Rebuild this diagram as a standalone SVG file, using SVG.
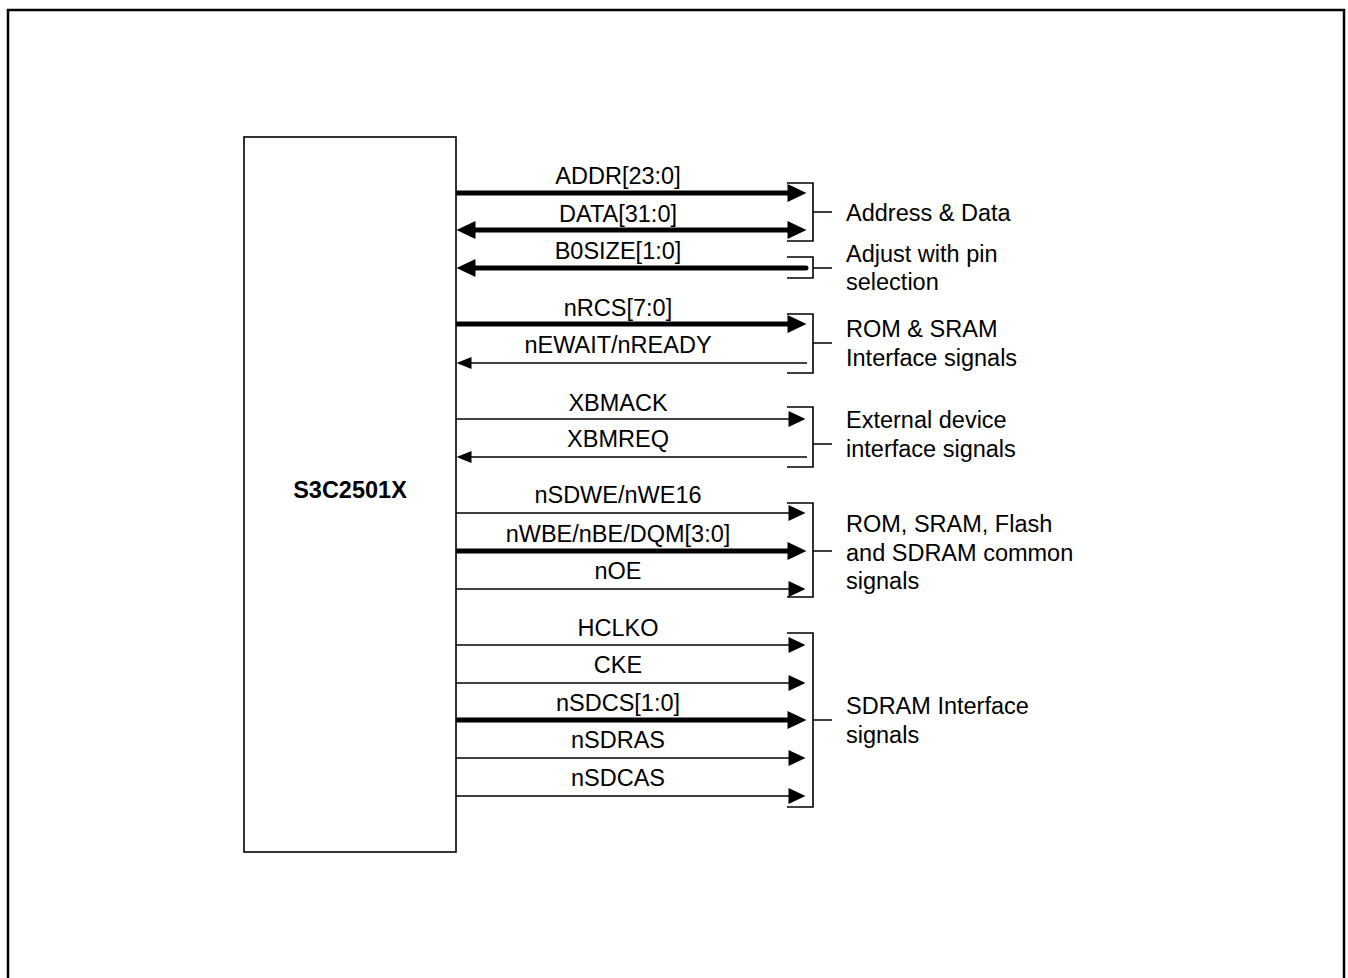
<svg xmlns="http://www.w3.org/2000/svg" width="1348" height="978" viewBox="0 0 1348 978">
<defs>
<style>
text{font-family:"Liberation Sans",Arial,sans-serif;font-size:23.5px;fill:#000}
.sig{text-anchor:middle}
.thin{stroke:#000;stroke-width:1.6;fill:none}
.thick{stroke:#000;stroke-width:5;fill:none}
.br{stroke:#000;stroke-width:1.6;fill:none}
</style>
<marker id="aR" markerUnits="userSpaceOnUse" markerWidth="20" markerHeight="20" viewBox="0 0 20 20" refX="1.5" refY="10" orient="auto"><path d="M1,2 L18,10 L1,18 Z" fill="#000"/></marker>
<marker id="aRt" markerUnits="userSpaceOnUse" markerWidth="22" markerHeight="22" viewBox="0 0 22 22" refX="1.5" refY="11" orient="auto"><path d="M1,2 L20,11 L1,20 Z" fill="#000"/></marker>
<marker id="aL" markerUnits="userSpaceOnUse" markerWidth="20" markerHeight="20" viewBox="0 0 20 20" refX="1.5" refY="10" orient="auto-start-reverse"><path d="M1,4 L16,10 L1,16 Z" fill="#000"/></marker>
<marker id="aLt" markerUnits="userSpaceOnUse" markerWidth="22" markerHeight="22" viewBox="0 0 22 22" refX="1.5" refY="11" orient="auto-start-reverse"><path d="M1,2 L20,11 L1,20 Z" fill="#000"/></marker>
</defs>
<rect x="0" y="0" width="1348" height="978" fill="#fff"/>
<rect x="8" y="10" width="1336" height="980" fill="none" stroke="#000" stroke-width="2.5"/>
<g id="chip">
<rect x="244" y="137" width="212" height="715" fill="#fff" stroke="#000" stroke-width="1.6"/>
<text x="350" y="498" text-anchor="middle" font-weight="bold">S3C2501X</text>
</g>
<g id="connectors">
<line class="thick" x1="456" y1="193" x2="788" y2="193" marker-end="url(#aRt)"/>
<line class="thick" x1="475" y1="230" x2="788" y2="230" marker-start="url(#aLt)" marker-end="url(#aRt)"/>
<line class="thick" x1="475" y1="268" x2="806" y2="268" stroke-linecap="round" marker-start="url(#aLt)"/>
<line class="thick" x1="456" y1="324" x2="788" y2="324" marker-end="url(#aRt)"/>
<line class="thin" x1="471" y1="363" x2="807" y2="363" marker-start="url(#aL)"/>
<line class="thin" x1="456" y1="419" x2="789" y2="419" marker-end="url(#aR)"/>
<line class="thin" x1="471" y1="457" x2="807" y2="457" marker-start="url(#aL)"/>
<line class="thin" x1="456" y1="513" x2="789" y2="513" marker-end="url(#aR)"/>
<line class="thick" x1="456" y1="551" x2="788" y2="551" marker-end="url(#aRt)"/>
<line class="thin" x1="456" y1="589" x2="789" y2="589" marker-end="url(#aR)"/>
<line class="thin" x1="456" y1="645" x2="789" y2="645" marker-end="url(#aR)"/>
<line class="thin" x1="456" y1="683" x2="789" y2="683" marker-end="url(#aR)"/>
<line class="thick" x1="456" y1="720" x2="788" y2="720" marker-end="url(#aRt)"/>
<line class="thin" x1="456" y1="758" x2="789" y2="758" marker-end="url(#aR)"/>
<line class="thin" x1="456" y1="796" x2="789" y2="796" marker-end="url(#aR)"/>
<path class="br" d="M787,183 H813 V241 H787 M813,212 H832"/>
<path class="br" d="M787,257 H813 V278 H787 M813,268 H832"/>
<path class="br" d="M787,314 H813 V373 H787 M813,343 H832"/>
<path class="br" d="M787,407 H813 V467 H787 M813,444 H832"/>
<path class="br" d="M787,503 H813 V597 H787 M813,551 H832"/>
<path class="br" d="M787,633 H813 V807 H787 M813,720 H832"/>
</g>
<g id="signal-labels">
<text class="sig" x="618" y="184">ADDR[23:0]</text>
<text class="sig" x="618" y="222">DATA[31:0]</text>
<text class="sig" x="618" y="259">B0SIZE[1:0]</text>
<text class="sig" x="618" y="316">nRCS[7:0]</text>
<text class="sig" x="618" y="353">nEWAIT/nREADY</text>
<text class="sig" x="618" y="411">XBMACK</text>
<text class="sig" x="618" y="447">XBMREQ</text>
<text class="sig" x="618" y="503">nSDWE/nWE16</text>
<text class="sig" x="618" y="542">nWBE/nBE/DQM[3:0]</text>
<text class="sig" x="618" y="579">nOE</text>
<text class="sig" x="618" y="636">HCLKO</text>
<text class="sig" x="618" y="673">CKE</text>
<text class="sig" x="618" y="711">nSDCS[1:0]</text>
<text class="sig" x="618" y="748">nSDRAS</text>
<text class="sig" x="618" y="786">nSDCAS</text>
</g>
<g id="group-labels">
<text x="846" y="221">Address &amp; Data</text>
<text x="846" y="262">Adjust with pin</text>
<text x="846" y="290">selection</text>
<text x="846" y="337">ROM &amp; SRAM</text>
<text x="846" y="366">Interface signals</text>
<text x="846" y="428">External device</text>
<text x="846" y="457">interface signals</text>
<text x="846" y="532">ROM, SRAM, Flash</text>
<text x="846" y="561">and SDRAM common</text>
<text x="846" y="589">signals</text>
<text x="846" y="714">SDRAM Interface</text>
<text x="846" y="743">signals</text>
</g>
</svg>
